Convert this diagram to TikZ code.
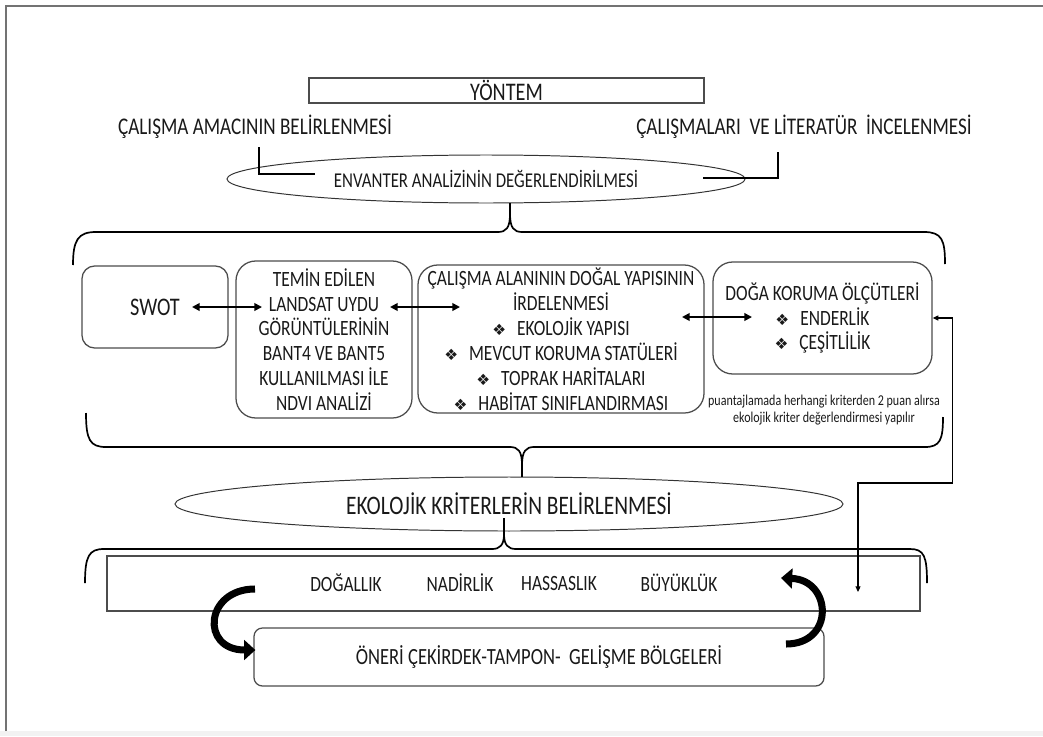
\documentclass[tikz,border=0pt]{standalone}
\usepackage{fontspec}
\setmainfont{Carlito}[FakeStretch=0.8]
\newfontfamily\dejavu{DejaVu Sans}
\usetikzlibrary{arrows.meta,shapes.geometric,calc}
\newlength{\pxl}
\setlength{\pxl}{0.025cm}
\newcommand{\bul}{{\dejavu\fontsize{11}{11}\selectfont ❖}\hspace{0.5em}}

\begin{document}
\begin{tikzpicture}[x=0.025cm,y=-0.025cm,
  kutu/.style={draw=black!70,line width=0.9pt,rounded corners=14pt,align=center,inner sep=0pt,text=black!90,font=\fontsize{15.5}{17.7}\selectfont},
  elips/.style={draw=black!80,line width=0.7pt,ellipse,inner sep=0pt,text=black!90},
  baslik/.style={text=black!90,font=\fontsize{17}{20}\selectfont},
  olcut/.style={text=black!90,font=\fontsize{15.5}{17.7}\selectfont},
  kume/.style={draw,line width=1.2pt,line join=round},
  link/.style={draw,line width=1.2pt},
  cift/.style={draw,line width=1.3pt,{Triangle[length=5.5pt,width=5.5pt]}-{Triangle[length=5.5pt,width=5.5pt]}},
  geri/.style={draw,line width=0.8pt,{Triangle[length=4pt,width=3.5pt]}-{Triangle[length=4pt,width=3.5pt]}},
  kalin/.style={draw,line width=5pt,-{Triangle[length=8pt,width=14pt]}}]
  \useasboundingbox (0,0) rectangle (1043,736);
  %frame
  \fill[black!5] (0,731) rectangle (1043,736);
  \draw[black!55,line width=1.5pt] (6,731) -- (6,6) -- (1043,6);

  %top
  \node[kutu,sharp corners,minimum width=395*\pxl,minimum height=25*\pxl,font=\fontsize{18}{20}\selectfont] (yontem) at (506.5,90.5) {YÖNTEM};
  \node[baslik] (amac) at (255,127) {ÇALIŞMA AMACININ BELİRLENMESİ};
  \node[baslik] (literatur) at (804,127) {ÇALIŞMALARI\ \ VE LİTERATÜR\ \ İNCELENMESİ};
  \node[elips,minimum width=518*\pxl,minimum height=48*\pxl,font=\fontsize{15}{17}\selectfont] (env) at (486,179) {ENVANTER ANALİZİNİN DEĞERLENDİRİLMESİ};
  \coordinate (amacL) at (259,147);
  \coordinate (envL) at (315,174);
  \coordinate (envR) at (703,178);
  \coordinate (litR) at (778,152);
  \draw[link] (amacL) |- (envL);
  \draw[link] (envR) -| (litR);

  %boxes
  \node[kutu,rounded corners=9pt,minimum width=146*\pxl,minimum height=82*\pxl,font=\fontsize{18}{20}\selectfont] (swot) at (155,307) {SWOT};
  \node[kutu,minimum width=176*\pxl,minimum height=157*\pxl] (temin) at (324,339.5) {TEMİN EDİLEN\\LANDSAT UYDU\\GÖRÜNTÜLERİNİN\\BANT4 VE BANT5\\KULLANILMASI İLE\\NDVI ANALİZİ};
  \node[kutu,minimum width=286*\pxl,minimum height=148*\pxl] (calisma) at (561,339) {ÇALIŞMA ALANININ DOĞAL YAPISININ\\İRDELENMESİ\\\bul EKOLOJİK YAPISI\\\bul MEVCUT KORUMA STATÜLERİ\\\bul TOPRAK HARİTALARI\\\bul HABİTAT SINIFLANDIRMASI};
  \node[kutu,minimum width=219*\pxl,minimum height=112*\pxl] (doga) at (822.5,318) {DOĞA KORUMA ÖLÇÜTLERİ\\\bul ENDERLİK\\\bul ÇEŞİTLİLİK};
  \node[text=black!90,align=center,font=\fontsize{10.7}{12}\selectfont] (puan) at (824,410) {puantajlamada herhangi kriterden 2 puan alırsa\\ekolojik kriter değerlendirmesi yapılır};
  \draw[cift] ($(swot)+(37,0)$) -- ($(temin)+(-62,-32.5)$);
  \draw[cift] ($(temin)+(66,-32.5)$) -- ($(calisma)+(-101,-32)$);
  \draw[cift] ($(calisma)+(121,-22)$) -- ($(doga)+(-70.5,-1)$);

  %brace under envanter
  \coordinate (b1L) at (73,265);
  \coordinate (b1M) at (510,214);
  \coordinate (b1R) at (945,264);
  \draw[kume] (b1L) .. controls (73,240) and (78,232) .. (96,232) -- (498,232) .. controls (506,232) and (510,228) .. (b1M) .. controls (510,228) and (514,232) .. (522,232) -- (924,232) .. controls (942,232) and (945,240) .. (b1R);
  \draw[kume] (b1M) -- (b1M |- env.south);

  %brace under boxes
  \coordinate (b2L) at (86,413);
  \coordinate (b2M) at (522,465);
  \coordinate (b2R) at (943,417);
  \draw[kume] (b2L) .. controls (86,440) and (90,447) .. (106,447) -- (510,447) .. controls (518,447) and (522,451) .. (b2M) .. controls (522,451) and (526,447) .. (534,447) -- (925,447) .. controls (940,447) and (943,440) .. (b2R);
  \node[elips,minimum width=668*\pxl,minimum height=54*\pxl,font=\fontsize{19}{22}\selectfont] (ekol) at (509,504) {EKOLOJİK KRİTERLERİN BELİRLENMESİ};
  \draw[kume] (b2M) -- (b2M |- ekol.north);

  %criteria
  \node[kutu,sharp corners,minimum width=813*\pxl,minimum height=55*\pxl] (kriter) at (513.5,583.5) {};
  \node[olcut] (dogallik) at (346,583) {DOĞALLIK};
  \node[olcut] (nadirlik) at (460,583) {NADİRLİK};
  \node[olcut] (hassaslik) at (559,583) {HASSASLIK};
  \node[olcut] (buyukluk) at (679,583) {BÜYÜKLÜK};
  \coordinate (b3L) at (85,583);
  \coordinate (b3M) at (504,534);
  \coordinate (b3R) at (927,583);
  \draw[kume] (b3L) .. controls (85,556) and (89,549) .. (104,549) -- (492,549) .. controls (500,549) and (504,545) .. (b3M) .. controls (504,545) and (508,549) .. (516,549) -- (910,549) .. controls (924,549) and (927,556) .. (b3R);
  \draw[kume] (b3M) -- (504,518);

  %result
  \node[kutu,rounded corners=6pt,minimum width=570*\pxl,minimum height=58*\pxl,font=\fontsize{16.5}{19}\selectfont] (oneri) at (539,657) {ÖNERİ ÇEKİRDEK-TAMPON-\ \ GELİŞME BÖLGELERİ};
  \coordinate (kL) at (255,589);
  \coordinate (kR) at (786,644);
  \draw[kalin] (kL) .. controls (205,589) and (200,650) .. ($(oneri.west)+(2,-7)$);
  \draw[kalin] (kR) .. controls (835,644) and (832,580) .. (781,578);

  %feedback
  \coordinate (fbA) at (858,483);
  \coordinate (fbB) at (858,592);
  \draw[geri] (doga.east) -- ++(20,0) |- (fbA) -- (fbB);
\end{tikzpicture}
\end{document}
